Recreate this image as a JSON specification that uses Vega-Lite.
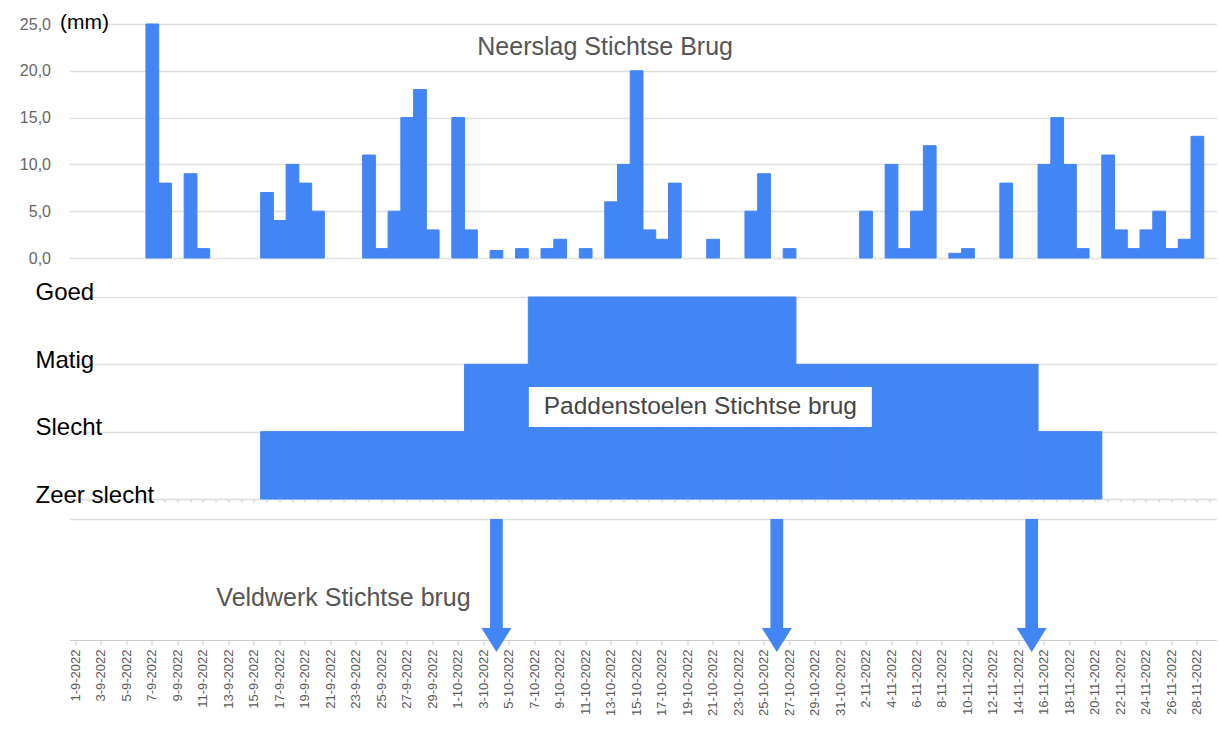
{
  "$schema": "https://vega.github.io/schema/vega-lite/v6.json",
  "padding": {"left": 18.5, "top": 11, "right": 0, "bottom": 0},
  "bounds": "flush",
  "spacing": 20,
  "config": {
    "view": {"stroke": null},
    "font": "Liberation Sans",
    "scale": {"bandPaddingInner": 0, "bandPaddingOuter": 0, "barBandPaddingInner": 0}
  },
  "datasets": {
    "dagen": [
      {"d": "1-9-2022", "mm": 0, "q": 0},
      {"d": "2-9-2022", "mm": 0, "q": 0},
      {"d": "3-9-2022", "mm": 0, "q": 0},
      {"d": "4-9-2022", "mm": 0, "q": 0},
      {"d": "5-9-2022", "mm": 0, "q": 0},
      {"d": "6-9-2022", "mm": 0, "q": 0},
      {"d": "7-9-2022", "mm": 25, "q": 0},
      {"d": "8-9-2022", "mm": 8, "q": 0},
      {"d": "9-9-2022", "mm": 0, "q": 0},
      {"d": "10-9-2022", "mm": 9, "q": 0},
      {"d": "11-9-2022", "mm": 1, "q": 0},
      {"d": "12-9-2022", "mm": 0, "q": 0},
      {"d": "13-9-2022", "mm": 0, "q": 0},
      {"d": "14-9-2022", "mm": 0, "q": 0},
      {"d": "15-9-2022", "mm": 0, "q": 0},
      {"d": "16-9-2022", "mm": 7, "q": 1},
      {"d": "17-9-2022", "mm": 4, "q": 1},
      {"d": "18-9-2022", "mm": 10, "q": 1},
      {"d": "19-9-2022", "mm": 8, "q": 1},
      {"d": "20-9-2022", "mm": 5, "q": 1},
      {"d": "21-9-2022", "mm": 0, "q": 1},
      {"d": "22-9-2022", "mm": 0, "q": 1},
      {"d": "23-9-2022", "mm": 0, "q": 1},
      {"d": "24-9-2022", "mm": 11, "q": 1},
      {"d": "25-9-2022", "mm": 1, "q": 1},
      {"d": "26-9-2022", "mm": 5, "q": 1},
      {"d": "27-9-2022", "mm": 15, "q": 1},
      {"d": "28-9-2022", "mm": 18, "q": 1},
      {"d": "29-9-2022", "mm": 3, "q": 1},
      {"d": "30-9-2022", "mm": 0, "q": 1},
      {"d": "1-10-2022", "mm": 15, "q": 1},
      {"d": "2-10-2022", "mm": 3, "q": 2},
      {"d": "3-10-2022", "mm": 0, "q": 2},
      {"d": "4-10-2022", "mm": 0.8, "q": 2},
      {"d": "5-10-2022", "mm": 0, "q": 2},
      {"d": "6-10-2022", "mm": 1, "q": 2},
      {"d": "7-10-2022", "mm": 0, "q": 3},
      {"d": "8-10-2022", "mm": 1, "q": 3},
      {"d": "9-10-2022", "mm": 2, "q": 3},
      {"d": "10-10-2022", "mm": 0, "q": 3},
      {"d": "11-10-2022", "mm": 1, "q": 3},
      {"d": "12-10-2022", "mm": 0, "q": 3},
      {"d": "13-10-2022", "mm": 6, "q": 3},
      {"d": "14-10-2022", "mm": 10, "q": 3},
      {"d": "15-10-2022", "mm": 20, "q": 3},
      {"d": "16-10-2022", "mm": 3, "q": 3},
      {"d": "17-10-2022", "mm": 2, "q": 3},
      {"d": "18-10-2022", "mm": 8, "q": 3},
      {"d": "19-10-2022", "mm": 0, "q": 3},
      {"d": "20-10-2022", "mm": 0, "q": 3},
      {"d": "21-10-2022", "mm": 2, "q": 3},
      {"d": "22-10-2022", "mm": 0, "q": 3},
      {"d": "23-10-2022", "mm": 0, "q": 3},
      {"d": "24-10-2022", "mm": 5, "q": 3},
      {"d": "25-10-2022", "mm": 9, "q": 3},
      {"d": "26-10-2022", "mm": 0, "q": 3},
      {"d": "27-10-2022", "mm": 1, "q": 3},
      {"d": "28-10-2022", "mm": 0, "q": 2},
      {"d": "29-10-2022", "mm": 0, "q": 2},
      {"d": "30-10-2022", "mm": 0, "q": 2},
      {"d": "31-10-2022", "mm": 0, "q": 2},
      {"d": "1-11-2022", "mm": 0, "q": 2},
      {"d": "2-11-2022", "mm": 5, "q": 2},
      {"d": "3-11-2022", "mm": 0, "q": 2},
      {"d": "4-11-2022", "mm": 10, "q": 2},
      {"d": "5-11-2022", "mm": 1, "q": 2},
      {"d": "6-11-2022", "mm": 5, "q": 2},
      {"d": "7-11-2022", "mm": 12, "q": 2},
      {"d": "8-11-2022", "mm": 0, "q": 2},
      {"d": "9-11-2022", "mm": 0.5, "q": 2},
      {"d": "10-11-2022", "mm": 1, "q": 2},
      {"d": "11-11-2022", "mm": 0, "q": 2},
      {"d": "12-11-2022", "mm": 0, "q": 2},
      {"d": "13-11-2022", "mm": 8, "q": 2},
      {"d": "14-11-2022", "mm": 0, "q": 2},
      {"d": "15-11-2022", "mm": 0, "q": 2},
      {"d": "16-11-2022", "mm": 10, "q": 1},
      {"d": "17-11-2022", "mm": 15, "q": 1},
      {"d": "18-11-2022", "mm": 10, "q": 1},
      {"d": "19-11-2022", "mm": 1, "q": 1},
      {"d": "20-11-2022", "mm": 0, "q": 1},
      {"d": "21-11-2022", "mm": 11, "q": 0},
      {"d": "22-11-2022", "mm": 3, "q": 0},
      {"d": "23-11-2022", "mm": 1, "q": 0},
      {"d": "24-11-2022", "mm": 3, "q": 0},
      {"d": "25-11-2022", "mm": 5, "q": 0},
      {"d": "26-11-2022", "mm": 1, "q": 0},
      {"d": "27-11-2022", "mm": 2, "q": 0},
      {"d": "28-11-2022", "mm": 13, "q": 0},
      {"d": "29-11-2022", "mm": 0, "q": 0}
    ],
    "veldwerk": [
      {"d": "4-10-2022"},
      {"d": "26-10-2022"},
      {"d": "15-11-2022"}
    ]
  },
  "vconcat": [
    {
      "width": 1147,
      "height": 234,
      "data": {"name": "dagen"},
      "layer": [
        {
          "transform": [{"filter": "datum.mm > 0"}],
          "mark": {"type": "bar", "color": "#4285F4", "stroke": "#4285F4", "strokeWidth": 1},
          "encoding": {
            "x": {
              "field": "d", "type": "ordinal", "sort": null,
              "scale": {
                "paddingInner": 0, "paddingOuter": 0,
                "domain": ["1-9-2022","2-9-2022","3-9-2022","4-9-2022","5-9-2022","6-9-2022","7-9-2022","8-9-2022","9-9-2022","10-9-2022","11-9-2022","12-9-2022","13-9-2022","14-9-2022","15-9-2022","16-9-2022","17-9-2022","18-9-2022","19-9-2022","20-9-2022","21-9-2022","22-9-2022","23-9-2022","24-9-2022","25-9-2022","26-9-2022","27-9-2022","28-9-2022","29-9-2022","30-9-2022","1-10-2022","2-10-2022","3-10-2022","4-10-2022","5-10-2022","6-10-2022","7-10-2022","8-10-2022","9-10-2022","10-10-2022","11-10-2022","12-10-2022","13-10-2022","14-10-2022","15-10-2022","16-10-2022","17-10-2022","18-10-2022","19-10-2022","20-10-2022","21-10-2022","22-10-2022","23-10-2022","24-10-2022","25-10-2022","26-10-2022","27-10-2022","28-10-2022","29-10-2022","30-10-2022","31-10-2022","1-11-2022","2-11-2022","3-11-2022","4-11-2022","5-11-2022","6-11-2022","7-11-2022","8-11-2022","9-11-2022","10-11-2022","11-11-2022","12-11-2022","13-11-2022","14-11-2022","15-11-2022","16-11-2022","17-11-2022","18-11-2022","19-11-2022","20-11-2022","21-11-2022","22-11-2022","23-11-2022","24-11-2022","25-11-2022","26-11-2022","27-11-2022","28-11-2022","29-11-2022"]
              },
              "axis": {"labels": false, "ticks": false, "domain": false, "grid": false, "title": null}
            },
            "y": {
              "field": "mm", "type": "quantitative", "stack": null,
              "scale": {"domain": [0, 25], "nice": false},
              "axis": {
                "values": [0, 5, 10, 15, 20, 25],
                "labelExpr": "replace(format(datum.value, '.1f'), '.', ',')",
                "labelFontSize": 16, "labelColor": "#666666", "labelPadding": 19,
                "ticks": false, "tickSize": 0, "domain": false,
                "grid": true, "gridColor": "#e0e0e0", "gridWidth": 1.3,
                "title": "(mm)", "titleAngle": 0, "titleAlign": "left", "titleBaseline": "alphabetic",
                "titleX": -10, "titleY": 4, "titleFontSize": 21, "titleColor": "#000000", "titleFontWeight": "normal"
              }
            }
          }
        },
        {
          "data": {"values": [{}]},
          "mark": {"type": "text", "fontSize": 25, "color": "#555555", "baseline": "middle", "dx": -6},
          "encoding": {
            "x": {"datum": "13-10-2022", "type": "ordinal"},
            "y": {"datum": 22.5, "type": "quantitative", "scale": {"domain": [0, 25], "nice": false}},
            "text": {"value": "Neerslag Stichtse Brug"}
          }
        }
      ]
    },
    {
      "width": 1147,
      "height": 221,
      "data": {"name": "dagen"},
      "layer": [
        {
          "transform": [{"filter": "datum.q > 0"}],
          "mark": {"type": "bar", "color": "#4285F4", "stroke": "#4285F4", "strokeWidth": 1},
          "encoding": {
            "x": {
              "field": "d", "type": "ordinal", "sort": null,
              "scale": {
                "paddingInner": 0, "paddingOuter": 0,
                "domain": ["1-9-2022","2-9-2022","3-9-2022","4-9-2022","5-9-2022","6-9-2022","7-9-2022","8-9-2022","9-9-2022","10-9-2022","11-9-2022","12-9-2022","13-9-2022","14-9-2022","15-9-2022","16-9-2022","17-9-2022","18-9-2022","19-9-2022","20-9-2022","21-9-2022","22-9-2022","23-9-2022","24-9-2022","25-9-2022","26-9-2022","27-9-2022","28-9-2022","29-9-2022","30-9-2022","1-10-2022","2-10-2022","3-10-2022","4-10-2022","5-10-2022","6-10-2022","7-10-2022","8-10-2022","9-10-2022","10-10-2022","11-10-2022","12-10-2022","13-10-2022","14-10-2022","15-10-2022","16-10-2022","17-10-2022","18-10-2022","19-10-2022","20-10-2022","21-10-2022","22-10-2022","23-10-2022","24-10-2022","25-10-2022","26-10-2022","27-10-2022","28-10-2022","29-10-2022","30-10-2022","31-10-2022","1-11-2022","2-11-2022","3-11-2022","4-11-2022","5-11-2022","6-11-2022","7-11-2022","8-11-2022","9-11-2022","10-11-2022","11-11-2022","12-11-2022","13-11-2022","14-11-2022","15-11-2022","16-11-2022","17-11-2022","18-11-2022","19-11-2022","20-11-2022","21-11-2022","22-11-2022","23-11-2022","24-11-2022","25-11-2022","26-11-2022","27-11-2022","28-11-2022","29-11-2022"]
              },
              "axis": {"labels": false, "ticks": true, "tickSize": 3, "tickColor": "#cccccc", "domainColor": "#dddddd", "title": null, "grid": false}
            },
            "y": {
              "field": "q", "type": "quantitative", "stack": null,
              "scale": {"domain": [0, 3.282], "nice": false},
              "axis": {
                "values": [0, 1, 2, 3],
                "labelExpr": "['Zeer slecht','Slecht','Matig','Goed'][datum.value]",
                "labelFontSize": 24, "labelColor": "#000000", "labelAlign": "left", "labelBaseline": "alphabetic",
                "labelOffset": 3, "labelPadding": 34.5,
                "ticks": false, "tickSize": 0, "domain": false,
                "grid": true, "gridColor": "#e0e0e0", "gridWidth": 1.3, "title": null
              }
            }
          }
        },
        {
          "data": {"values": [{}]},
          "mark": {"type": "bar", "color": "#ffffff", "width": 343},
          "encoding": {
            "x": {"datum": "20-10-2022", "type": "ordinal"},
            "y": {"datum": 1.664, "type": "quantitative", "scale": {"domain": [0, 3.282], "nice": false}},
            "y2": {"datum": 1.07}
          }
        },
        {
          "data": {"values": [{}]},
          "mark": {"type": "text", "fontSize": 24.5, "color": "#444444", "baseline": "middle"},
          "encoding": {
            "x": {"datum": "20-10-2022", "type": "ordinal"},
            "y": {"datum": 1.366, "type": "quantitative", "scale": {"domain": [0, 3.282], "nice": false}},
            "text": {"value": "Paddenstoelen Stichtse brug"}
          }
        }
      ]
    },
    {
      "width": 1147,
      "height": 121,
      "data": {"name": "veldwerk"},
      "layer": [
        {
          "mark": {"type": "bar", "color": "#4285F4"},
          "encoding": {
            "x": {
              "field": "d", "type": "ordinal", "sort": null,
              "scale": {
                "paddingInner": 0, "paddingOuter": 0,
                "domain": ["1-9-2022","2-9-2022","3-9-2022","4-9-2022","5-9-2022","6-9-2022","7-9-2022","8-9-2022","9-9-2022","10-9-2022","11-9-2022","12-9-2022","13-9-2022","14-9-2022","15-9-2022","16-9-2022","17-9-2022","18-9-2022","19-9-2022","20-9-2022","21-9-2022","22-9-2022","23-9-2022","24-9-2022","25-9-2022","26-9-2022","27-9-2022","28-9-2022","29-9-2022","30-9-2022","1-10-2022","2-10-2022","3-10-2022","4-10-2022","5-10-2022","6-10-2022","7-10-2022","8-10-2022","9-10-2022","10-10-2022","11-10-2022","12-10-2022","13-10-2022","14-10-2022","15-10-2022","16-10-2022","17-10-2022","18-10-2022","19-10-2022","20-10-2022","21-10-2022","22-10-2022","23-10-2022","24-10-2022","25-10-2022","26-10-2022","27-10-2022","28-10-2022","29-10-2022","30-10-2022","31-10-2022","1-11-2022","2-11-2022","3-11-2022","4-11-2022","5-11-2022","6-11-2022","7-11-2022","8-11-2022","9-11-2022","10-11-2022","11-11-2022","12-11-2022","13-11-2022","14-11-2022","15-11-2022","16-11-2022","17-11-2022","18-11-2022","19-11-2022","20-11-2022","21-11-2022","22-11-2022","23-11-2022","24-11-2022","25-11-2022","26-11-2022","27-11-2022","28-11-2022","29-11-2022"]
              },
              "axis": {
                "values": ["1-9-2022","3-9-2022","5-9-2022","7-9-2022","9-9-2022","11-9-2022","13-9-2022","15-9-2022","17-9-2022","19-9-2022","21-9-2022","23-9-2022","25-9-2022","27-9-2022","29-9-2022","1-10-2022","3-10-2022","5-10-2022","7-10-2022","9-10-2022","11-10-2022","13-10-2022","15-10-2022","17-10-2022","19-10-2022","21-10-2022","23-10-2022","25-10-2022","27-10-2022","29-10-2022","31-10-2022","2-11-2022","4-11-2022","6-11-2022","8-11-2022","10-11-2022","12-11-2022","14-11-2022","16-11-2022","18-11-2022","20-11-2022","22-11-2022","24-11-2022","26-11-2022","28-11-2022"],
                "labelAngle": 270, "labelFontSize": 13, "labelColor": "#5a5a5a", "labelPadding": 4,
                "labelOverlap": false,
                "tickSize": 5, "tickColor": "#cccccc", "domainColor": "#cccccc",
                "title": null, "grid": false
              }
            },
            "y": {
              "datum": 1, "type": "quantitative",
              "scale": {"domain": [0, 1], "nice": false},
              "axis": {"values": [1], "labels": false, "ticks": false, "domain": false, "grid": true, "gridColor": "#e0e0e0", "gridWidth": 1.3, "title": null}
            },
            "y2": {"datum": 0.08}
          }
        },
        {
          "mark": {"type": "point", "shape": "M-1,-0.8L1,-0.8L0,0.8Z", "size": 900, "filled": true, "color": "#4285F4", "opacity": 1},
          "encoding": {
            "x": {"field": "d", "type": "ordinal", "sort": null},
            "y": {"datum": 0, "type": "quantitative", "scale": {"domain": [0, 1], "nice": false}}
          }
        },
        {
          "data": {"values": [{}]},
          "mark": {"type": "text", "fontSize": 25, "color": "#555555", "baseline": "middle"},
          "encoding": {
            "x": {"datum": "22-9-2022", "type": "ordinal"},
            "y": {"datum": 0.347, "type": "quantitative", "scale": {"domain": [0, 1], "nice": false}},
            "text": {"value": "Veldwerk Stichtse brug"}
          }
        }
      ]
    }
  ]
}
